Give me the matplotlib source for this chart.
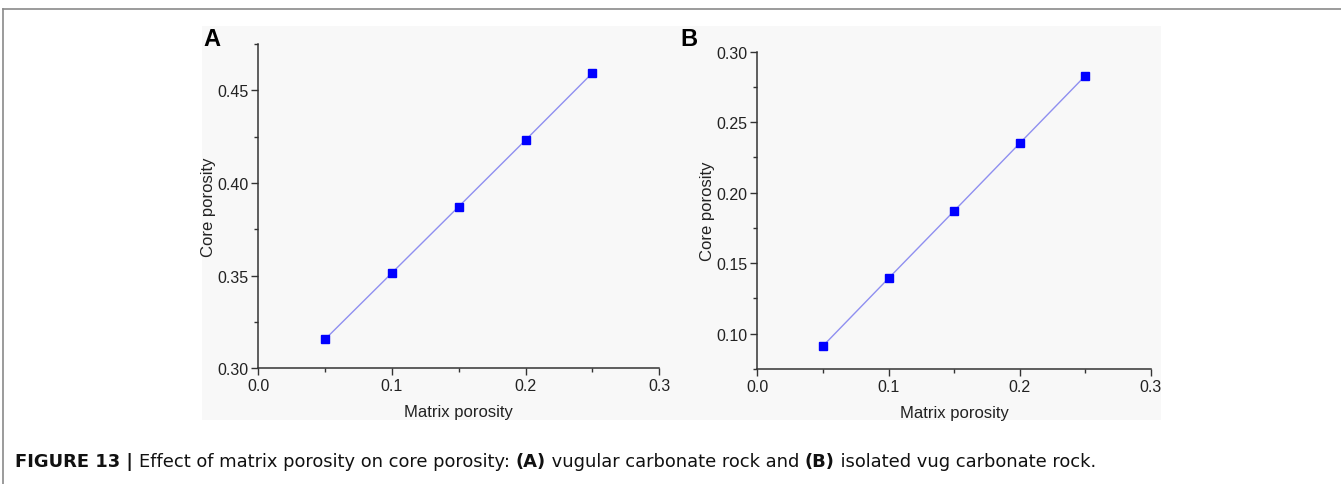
import matplotlib
matplotlib.use("Agg")
import matplotlib.pyplot as plt
from matplotlib.patches import Rectangle
from matplotlib.lines import Line2D
from matplotlib.ticker import MultipleLocator, FormatStrFormatter

plt.rcParams['font.family'] = ['Liberation Sans', 'DejaVu Sans']

# Matrix porosity (shared x values)
matrix_porosity = [0.05, 0.10, 0.15, 0.20, 0.25]
# (A) vugular carbonate rock
core_porosity_a = [0.3157, 0.3515, 0.3873, 0.4232, 0.4594]
# (B) isolated vug carbonate rock
core_porosity_b = [0.0913, 0.1393, 0.1871, 0.2351, 0.2830]

x_ticks = [0.0, 0.1, 0.2, 0.3]
panel_letters = ["A", "B"]
x_label = "Matrix porosity"
y_label = "Core porosity"
caption_parts = [
    ("FIGURE 13 | ", "bold"),
    ("Effect of matrix porosity on core porosity: ", "normal"),
    ("(A)", "bold"),
    (" vugular carbonate rock and ", "normal"),
    ("(B)", "bold"),
    (" isolated vug carbonate rock.", "normal"),
]

W, H = 1341, 485
fig = plt.figure(figsize=(W / 100, H / 100), dpi=100)
fig.patch.set_facecolor("white")

bg = "#f8f8f8"
# light panel behind both plots
fig.patches.append(Rectangle((202 / W, 1 - 421 / H), (1161 - 202) / W, (421 - 27) / H,
                             transform=fig.transFigure, facecolor=bg, edgecolor="none", zorder=-5))
# page frame lines
fig.lines.append(Line2D([3 / W, 1.0], [1 - 10 / H, 1 - 10 / H], transform=fig.transFigure,
                        color="#8a8a8a", lw=1.2, zorder=-4))
fig.lines.append(Line2D([3 / W, 3 / W], [0.0, 1 - 10 / H], transform=fig.transFigure,
                        color="#8a8a8a", lw=1.2, zorder=-4))

ax_a = fig.add_axes([258.3 / W, 1 - 369.3 / H, (659.3 - 258.3) / W, (369.3 - 45) / H])
ax_b = fig.add_axes([757.3 / W, 1 - 370 / H, (1151 - 757.3) / W, (370 - 52.7) / H])

configs = [
    (ax_a, core_porosity_a, (0.30, 0.475), [0.30, 0.35, 0.40, 0.45]),
    (ax_b, core_porosity_b, (0.075, 0.30), [0.10, 0.15, 0.20, 0.25, 0.30]),
]

for ax, yvals, ylim, yticks in configs:
    ax.set_facecolor(bg)
    ax.plot(matrix_porosity, yvals, color="#8f8ff0", lw=1.0, zorder=2)
    ax.plot(matrix_porosity, yvals, ls="none", marker="s", ms=5.2,
            mfc="#0000ff", mec="#0000ff", zorder=3)
    ax.set_xlim(0.0, 0.3)
    ax.set_ylim(*ylim)
    ax.set_xticks(x_ticks)
    ax.xaxis.set_minor_locator(MultipleLocator(0.05))
    ax.set_yticks(yticks)
    ax.yaxis.set_minor_locator(MultipleLocator(0.025))
    ax.xaxis.set_major_formatter(FormatStrFormatter("%.1f"))
    ax.yaxis.set_major_formatter(FormatStrFormatter("%.2f"))
    for s in ("top", "right"):
        ax.spines[s].set_visible(False)
    for s in ("left", "bottom"):
        ax.spines[s].set_color("#333333")
        ax.spines[s].set_linewidth(1.1)
    ax.tick_params(which="major", direction="out", length=5, width=1.0,
                   color="#333333", labelsize=11.5, labelcolor="#222222", pad=2)
    ax.tick_params(which="minor", direction="out", length=3, width=1.0, color="#333333")
    ax.set_xlabel(x_label, fontsize=12, color="#222222", labelpad=8)
    ax.set_ylabel(y_label, fontsize=12, color="#222222", labelpad=1)

# panel letters
fig.text(203 / W, 1 - 46 / H, panel_letters[0], fontsize=17, fontweight="bold", va="baseline")
fig.text(680 / W, 1 - 46 / H, panel_letters[1], fontsize=17, fontweight="bold", va="baseline")

# caption with mixed weights
fig.canvas.draw()
renderer = fig.canvas.get_renderer()
x_px = 15
y_frac = 1 - 467 / H
for txt, weight in caption_parts:
    t = fig.text(x_px / W, y_frac, txt, fontsize=12.9, fontweight=weight,
                 family=["DejaVu Sans"], color="#111111", va="baseline")
    bb = t.get_window_extent(renderer=renderer)
    x_px += bb.width

fig.savefig("out.png", dpi=100, facecolor="white")
